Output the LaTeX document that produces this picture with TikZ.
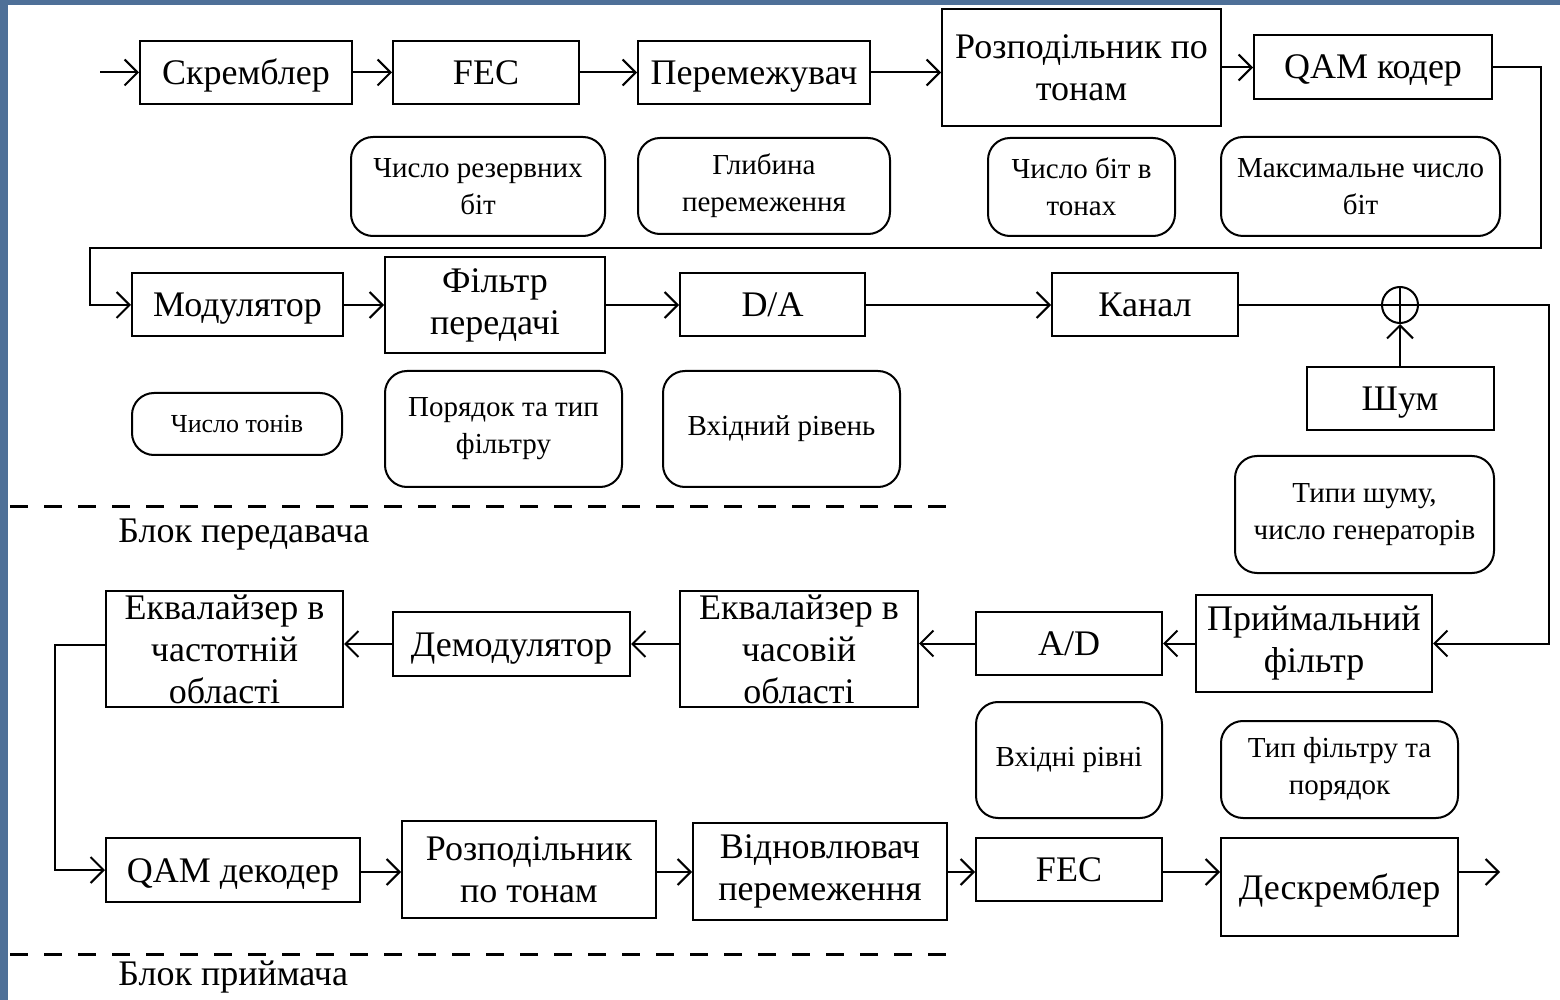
\documentclass[tikz,border=0pt]{standalone}
\usepackage{fontspec}
\setmainfont{Liberation Serif}
\usetikzlibrary{arrows.meta}

\definecolor{frameblue}{RGB}{78,112,152}
\newcommand\bigtxt{\fontsize{18}{21}\selectfont}
\newcommand\partxt{\fontsize{14.5}{18.5}\selectfont}
\newcommand\labtxt{\fontsize{18}{21}\selectfont}

\tikzset{
  blk/.style={draw, line width=1pt, inner sep=0pt, align=center, font=\bigtxt},
  oneline/.style={text height=17pt, text depth=5pt},
  parbox/.style={draw, line width=1pt, rounded corners=11pt, inner sep=0pt, align=center, font=\partxt},
  conn/.style={line width=1pt},
  arr/.style={line width=1pt, -{Straight Barb[length=6.5pt,width=13pt]}},
  sepline/.style={line width=1.5pt, dash pattern=on 9pt off 8pt}
}

\begin{document}
\begin{tikzpicture}[x=0.5pt,y=-0.5pt]
  \useasboundingbox (0,0) rectangle (1560,1000);
  \fill[frameblue] (0,0) rectangle (1560,1000);
  \fill[white] (8,5) rectangle (1560,1000);

  % transmitter, first row
  \node[blk, oneline, minimum width=106pt, minimum height=31.5pt] (scr) at (246,72.5) {Скремблер};
  \node[blk, oneline, minimum width=93pt, minimum height=31.5pt] (fec1) at (486,72.5) {FEC};
  \node[blk, oneline, minimum width=116pt, minimum height=31.5pt] (ilv) at (754,72.5) {Перемежувач};
  \node[blk, minimum width=139.5pt, minimum height=58.5pt] (tonemap) at (1081.5,67.5) {Розподільник по\\тонам};
  \node[blk, oneline, minimum width=119pt, minimum height=32pt] (qam) at (1373,67) {QAM кодер};

  \node[parbox, minimum width=127pt, minimum height=49.5pt] (p1) at (478,186.5) {Число резервних\\біт};
  \node[parbox, minimum width=126pt, minimum height=48pt] (p2) at (764,186) {Глибина\\перемеження};
  \node[parbox, minimum width=93.5pt, minimum height=49pt] (p3) at (1081.5,187) {Число біт в\\тонах};
  \node[parbox, minimum width=139.5pt, minimum height=49.5pt] (p4) at (1360.5,186.5) {Максимальне число\\біт};

  % transmitter, second row
  \node[blk, oneline, minimum width=105.5pt, minimum height=31.5pt] (mod) at (237.5,305) {Модулятор};
  \node[blk, minimum width=110pt, minimum height=48pt] (txf) at (495,305) {Фільтр\\передачі};
  \node[blk, oneline, minimum width=92.5pt, minimum height=31.5pt] (da) at (772.5,305) {D/A};
  \node[blk, oneline, minimum width=93pt, minimum height=31.5pt] (chan) at (1145,305) {Канал};
  \node[circle, draw, line width=1pt, minimum size=18pt, inner sep=0pt,
        path picture={\draw[line width=1pt] (path picture bounding box.north) -- (path picture bounding box.south);}] (sum) at (1400,305) {};
  \node[blk, oneline, minimum width=93.5pt, minimum height=31.5pt] (noise) at (1400,398.5) {Шум};

  \node[parbox, minimum width=105pt, minimum height=31pt, font=\fontsize{13}{16}\selectfont] (p5) at (237,424) {Число тонів};
  \node[parbox, minimum width=118.5pt, minimum height=58pt] (p6) at (503.5,429) {Порядок та тип\\фільтру};
  \node[parbox, minimum width=118.5pt, minimum height=58pt] (p7) at (781.5,429) {Вхідний рівень};
  \node[parbox, minimum width=129.5pt, minimum height=58.5pt] (p8) at (1364.5,514.5) {Типи шуму,\\число генераторів};

  % receiver, first row
  \node[blk, minimum width=118.5pt, minimum height=58pt] (eqf) at (224.5,649) {Еквалайзер в\\частотній\\області};
  \node[blk, oneline, minimum width=118.5pt, minimum height=32pt] (demod) at (511.5,644) {Демодулятор};
  \node[blk, minimum width=119pt, minimum height=58pt] (eqt) at (799,649) {Еквалайзер в\\часовій\\області};
  \node[blk, oneline, minimum width=93pt, minimum height=31.5pt] (adc) at (1069,643.5) {A/D};
  \node[blk, minimum width=118pt, minimum height=48.5pt] (rxf) at (1314,643.5) {Приймальний\\фільтр};

  \node[parbox, minimum width=93pt, minimum height=58pt] (p9) at (1069,760) {Вхідні рівні};
  \node[parbox, minimum width=118.5pt, minimum height=48.5pt] (p10) at (1339.5,769.5) {Тип фільтру та\\порядок};

  % receiver, second row
  \node[blk, oneline, minimum width=127pt, minimum height=32pt] (qamd) at (233,870) {QAM декодер};
  \node[blk, minimum width=127pt, minimum height=48.5pt] (demap) at (529,869.5) {Розподільник\\по тонам};
  \node[blk, minimum width=127pt, minimum height=48.5pt] (deilv) at (820,871.5) {Відновлювач\\перемеження};
  \node[blk, oneline, minimum width=93pt, minimum height=31.5pt] (fec2) at (1069,869.5) {FEC};
  \node[blk, oneline, minimum width=118.5pt, minimum height=49pt] (descr) at (1339.5,887) {Дескремблер};

  % section borders
  \draw[sepline] (10,507) -- (960,507);
  \node[anchor=base west, font=\labtxt, inner sep=0pt] (txlab) at (118,543) {Блок передавача};
  \draw[sepline] (10,954) -- (960,954);
  \node[anchor=base west, font=\labtxt, inner sep=0pt] (rxlab) at (118,985) {Блок приймача};

  % connectors
  \coordinate (in) at (100,72.5);
  \coordinate (fbr) at (1541,248);
  \coordinate (fbl) at (90,248);
  \coordinate (rxr) at (1549,305);
  \coordinate (eql) at (55,645);
  \coordinate (out) at (1500,872);

  \draw[arr] (in) -- (scr.west);
  \draw[arr] (scr) -- (fec1);
  \draw[arr] (fec1) -- (ilv);
  \draw[arr] (ilv.east) -- (ilv.east -| tonemap.west);
  \draw[arr] (tonemap.east) -- (tonemap.east -| qam.west);
  \draw[arr] (qam.east) -| (fbr) -- (fbl) |- (mod.west);
  \draw[arr] (mod) -- (txf);
  \draw[arr] (txf) -- (da);
  \draw[arr] (da) -- (chan);
  \draw[conn] (chan.east) -- (sum.west);
  \draw[arr] (noise.north) -- (sum.south);
  \draw[arr] (sum.west) -- (rxr) |- (rxf.east);
  \draw[arr] (rxf.west) -- (rxf.west -| adc.east);
  \draw[arr] (adc.west) -- (adc.west -| eqt.east);
  \draw[arr] (demod.east -| eqt.west) -- (demod.east);
  \draw[arr] (demod.west) -- (demod.west -| eqf.east);
  \draw[arr] (eqf.west |- eql) -- (eql) |- (qamd.west);
  \draw[arr] (qamd.east |- out) -- (demap.west |- out);
  \draw[arr] (demap.east |- out) -- (deilv.west |- out);
  \draw[arr] (deilv.east |- out) -- (fec2.west |- out);
  \draw[arr] (fec2.east |- out) -- (descr.west |- out);
  \draw[arr] (descr.east |- out) -- (out);
\end{tikzpicture}
\end{document}
